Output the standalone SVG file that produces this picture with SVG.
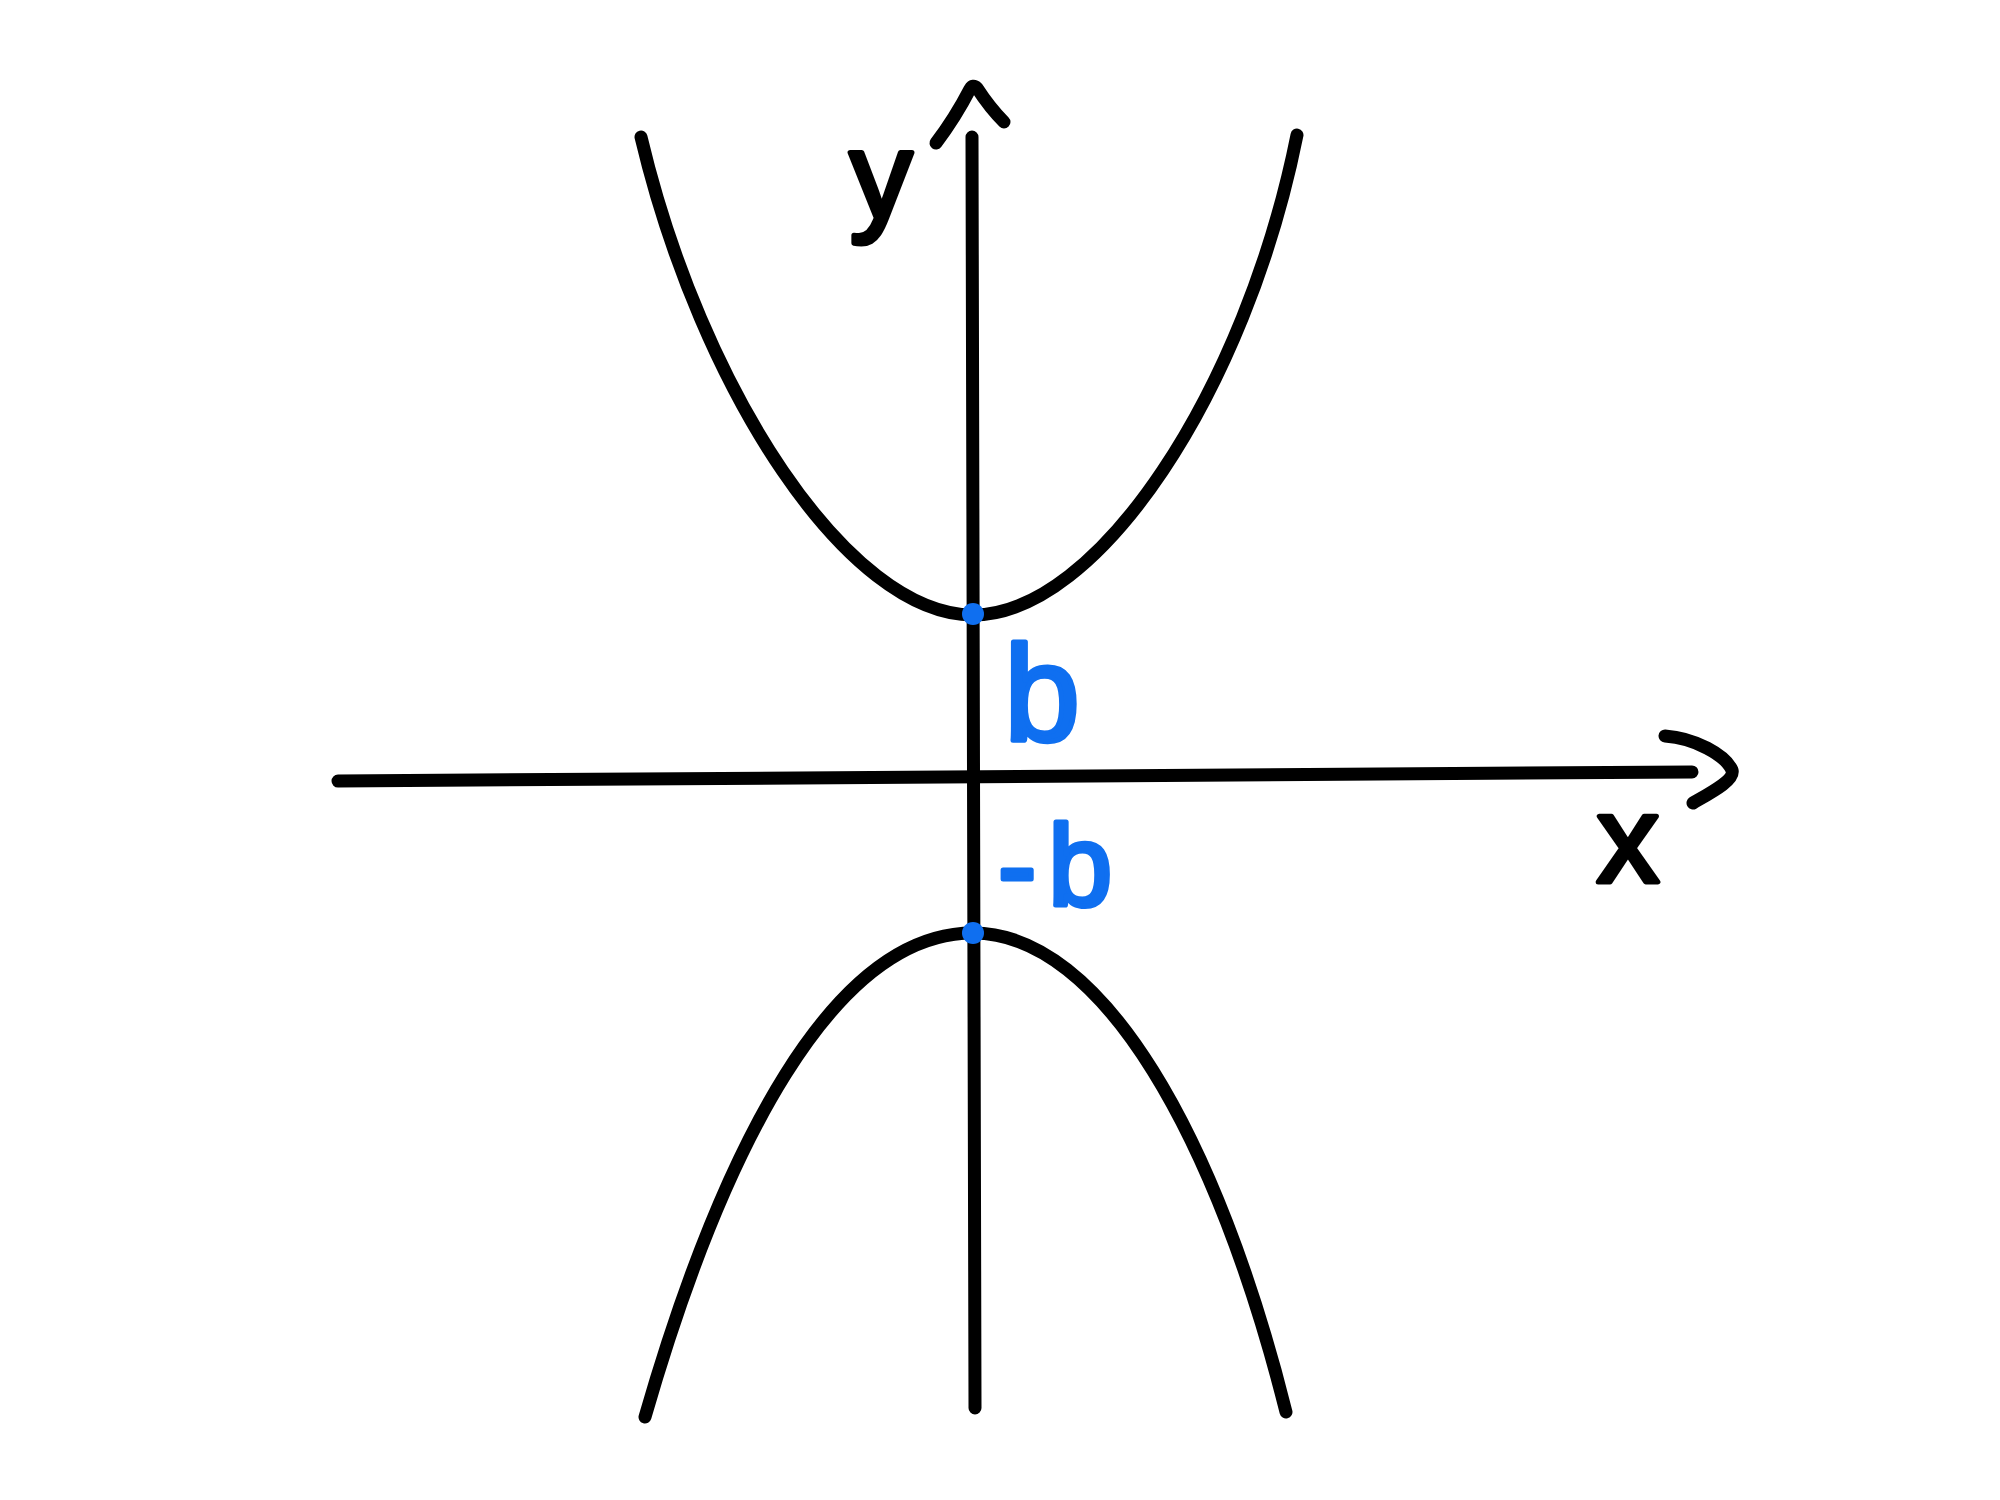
<svg xmlns="http://www.w3.org/2000/svg" width="2000" height="1500" viewBox="0 0 2000 1500">
<style>
.ink{fill:none;stroke:#000;stroke-width:13;stroke-linecap:round;stroke-linejoin:round}
.lbl{font-family:"Liberation Sans",Arial,sans-serif;fill:#000;stroke:#000;stroke-width:5;stroke-linejoin:round}
.blue{font-family:"Liberation Sans",Arial,sans-serif;fill:#0f6ff0;stroke:#0f6ff0;stroke-width:5;stroke-linejoin:round}
.dot{fill:#0f6ff0}
</style>
<rect width="2000" height="1500" fill="#fff"/>
<g id="connectors">
  <g id="x-axis">
    <path class="ink" d="M338,781 L1692,772"/>
    <path class="ink" d="M1665,736 C1695,738 1725,755 1732,770 C1735,780 1712,792 1693,803"/>
  </g>
  <g id="y-axis">
    <path class="ink" d="M972,137 L975,1408"/>
    <path class="ink" d="M936,143 Q955,118 970,89 Q973,84 977,88 Q990,108 1004,122"/>
  </g>
</g>
<g id="upper-branch">
  <path class="ink" d="M641,137 C701,390 848,615 973,615 C1098,615 1246,390 1297,135"/>
</g>
<g id="lower-branch">
  <path class="ink" d="M645,1417 C722.6,1148 833,933 973,933 C1103,933 1218,1140 1286,1412"/>
</g>
<g id="vertex-b">
  <circle class="dot" cx="973" cy="614" r="11"/>
</g>
<g id="vertex-minus-b">
  <circle class="dot" cx="973" cy="933" r="11"/>
</g>
<g id="label-y"><text class="lbl" x="881" y="218" font-size="125" text-anchor="middle">y</text></g>
<g id="label-x"><text class="lbl" x="1628" y="882" font-size="125" text-anchor="middle">x</text></g>
<g id="label-b"><text class="blue" x="1042" y="740" font-size="136" text-anchor="middle">b</text></g>
<g id="label-minus-b"><text class="blue" x="998" y="905" font-size="115">-<tspan dx="12">b</tspan></text></g>
</svg>
